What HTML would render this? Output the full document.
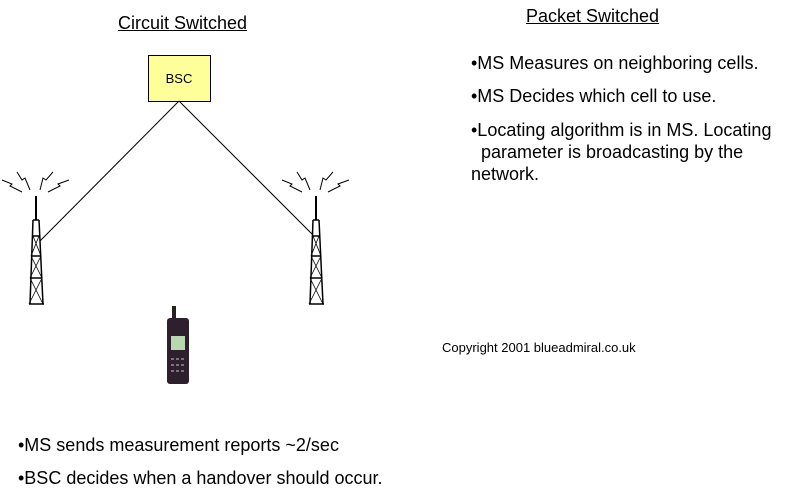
<!DOCTYPE html>
<html><head><meta charset="utf-8"><style>
body{margin:0;width:807px;height:495px;background:#fff;position:relative;overflow:hidden;font-family:"Liberation Sans",sans-serif;color:#000}
.t{position:absolute;white-space:nowrap}
</style></head><body>
<svg width="807" height="495" style="position:absolute;left:0;top:0">
<rect x="148.5" y="55.5" width="62" height="46" fill="#ffff99" stroke="#000"/>
<text x="179" y="83" font-size="13" text-anchor="middle" font-family="Liberation Sans">BSC</text>
<line x1="179" y1="101" x2="40" y2="241" stroke="#000" stroke-width="1"/>
<line x1="179" y1="101" x2="313" y2="235" stroke="#000" stroke-width="1"/>
<g id="tw" stroke="#000" fill="none">
<line x1="36" y1="196" x2="36" y2="220" stroke-width="2"/>
<path d="M33 220 L30 304 M39 220 L43 304 M33 220 H39 M32 236 H40 M31 256 H41 M30 278 H42 M29 304 H44" stroke-width="1.5"/>
<path d="M33 236 L41 256 M39 236 L31 256 M31 256 L42 278 M41 256 L30 278 M30 278 L43 304 M42 278 L29 304" stroke-width="0.8"/>
<path d="M2 180 L12 184 L10 186 L22 192 M17 172 L22 180 L25 178 L30 190 M53 172 L46 180 L43 178 L40 190 M69 180 L58 184 L60 186 L48 192" stroke-width="1"/>
</g>
<use href="#tw" x="280"/>
<rect x="172" y="306" width="4" height="14" fill="#222"/>
<rect x="167" y="318" width="22" height="66" rx="3" fill="#2d1f2d"/>
<rect x="171" y="336" width="14" height="14" fill="#b8d8b0"/>
<g fill="#777"><rect x="171" y="358" width="3" height="2"/><rect x="176" y="358" width="3" height="2"/><rect x="181" y="358" width="3" height="2"/><rect x="171" y="364" width="3" height="2"/><rect x="176" y="364" width="3" height="2"/><rect x="181" y="364" width="3" height="2"/><rect x="171" y="370" width="3" height="2"/><rect x="176" y="370" width="3" height="2"/><rect x="181" y="370" width="3" height="2"/></g>
</svg>
<div class="t" style="left:118px;top:13px;font-size:18px;text-decoration:underline">Circuit Switched</div>
<div class="t" style="left:526px;top:6px;font-size:18px;text-decoration:underline">Packet Switched</div>
<div class="t" style="left:471px;top:53px;font-size:18px">•MS Measures on neighboring cells.</div>
<div class="t" style="left:471px;top:86px;font-size:18px">•MS Decides which cell to use.</div>
<div class="t" style="left:471px;top:119px;font-size:18px;line-height:22px;white-space:pre">•Locating algorithm is in MS. Locating
  parameter is broadcasting by the
network.</div>
<div class="t" style="left:442px;top:340px;font-size:13px">Copyright 2001 blueadmiral.co.uk</div>
<div class="t" style="left:18px;top:435px;font-size:18px">•MS sends measurement reports ~2/sec</div>
<div class="t" style="left:18px;top:468px;font-size:18px">•BSC decides when a handover should occur.</div>
</body></html>
